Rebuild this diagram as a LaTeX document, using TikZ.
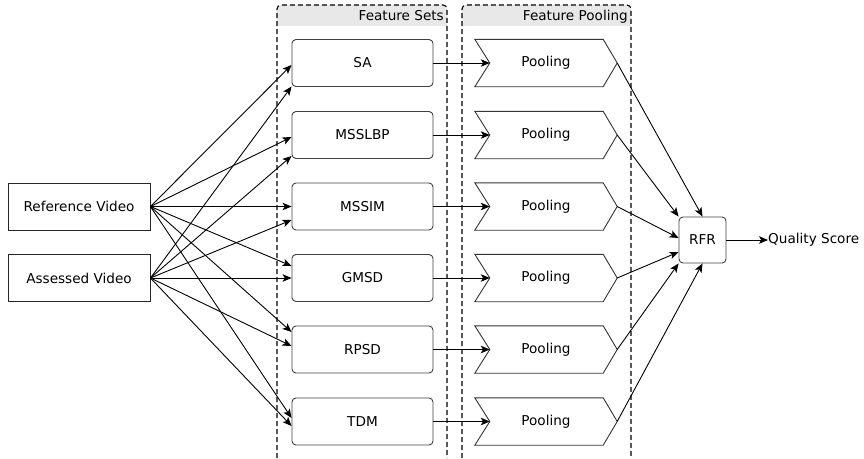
\documentclass[tikz,border=0pt]{standalone}
\usepackage{fontspec}
\setmainfont{DejaVu Sans}
\usetikzlibrary{arrows.meta,calc}

\tikzset{
  every node/.style={font=\fontsize{13.6}{16}\selectfont},
  conn/.style={line width=0.9pt, -{Stealth[length=9pt,width=7.5pt,inset=2.2pt]}},
  srcbox/.style={draw=black!85, line width=0.9pt, minimum width=142pt, minimum height=47pt, inner sep=0pt},
  featbox/.style={draw=black!75, line width=0.9pt, rounded corners=4pt, minimum width=141pt, minimum height=47pt, inner sep=0pt},
  poolbox/.style={minimum width=142pt, minimum height=47pt, inner sep=0pt},
  chevron/.style={draw=black!80, line width=0.9pt, line join=miter},
  groupline/.style={line width=1.1pt, dash pattern=on 5pt off 3pt},
  grouphead/.style={fill=black!9},
  headtext/.style={anchor=base east, inner sep=0pt},
}

\begin{document}
\begin{tikzpicture}[x=1pt, y=-1pt]
\useasboundingbox (0,0) rectangle (864,458);

% group headers (light grey bands with rounded top corners)
\foreach \xa/\xb in {277/447, 462/631} {
  \fill[grouphead, rounded corners=4pt] (\xa,5) rectangle (\xb,26);
  \fill[grouphead] (\xa,14) rectangle (\xb,26);
  \draw[groupline, rounded corners=4pt] (\xa,458) -- (\xa,5) -- (\xb,5) -- (\xb,458);
}
\node[headtext] (hsets) at (444,20.5) {Feature Sets};
\node[headtext] (hpool) at (628,20.5) {Feature Pooling};

% input videos
\node[srcbox] (ref) at (79,206.5) {Reference Video};
\node[srcbox] (ass) at (79,278) {Assessed Video};

% feature extractors and their pooling stages
\foreach \n/\y/\t in {1/63/SA, 2/135/MSSLBP, 3/206.5/MSSIM, 4/278/GMSD, 5/349.5/RPSD, 6/421.5/TDM} {
  \node[featbox] (f\n) at (362.5,\y) {\t};
  \node[poolbox] (p\n) at (546,\y) {Pooling};
  \draw[chevron] (p\n.north west) -- ([xshift=-14pt]p\n.north east) -- (p\n.east)
        -- ([xshift=-14pt]p\n.south east) -- (p\n.south west)
        -- ([xshift=15pt]p\n.west) -- cycle;
  \draw[conn] (f\n.east) -- ([xshift=15pt]p\n.west);
}

% regression stage
\node[featbox, minimum width=47pt, minimum height=46pt] (rfr) at (702.5,240) {RFR};
\node[anchor=west, inner sep=0pt] (qs) at (768,240) {Quality Score};
\draw[conn] (rfr.east) -- (qs.west);

% videos to feature extractors
\foreach \n/\dr/\da in {1/2/23.5, 2/2/21, 3/0/13.5, 4/-12/0, 5/-17.5/-3.5, 6/-3.5/4.5} {
  \draw[conn] (ref.east) -- ($(f\n.west)+(0,\dr)$);
  \draw[conn] (ass.east) -- ($(f\n.west)+(0,\da)$);
}

% pooled features to RFR
\draw[conn] (p1.east) -- (rfr.north);
\draw[conn] (p2.east) -- (rfr.north west);
\draw[conn] (p3.east) -- ($(rfr.west)+(0,-2)$);
\draw[conn] (p4.east) -- ($(rfr.west)+(0,12)$);
\draw[conn] (p5.east) -- (rfr.south west);
\draw[conn] (p6.east) -- (rfr.south);
\end{tikzpicture}
\end{document}
